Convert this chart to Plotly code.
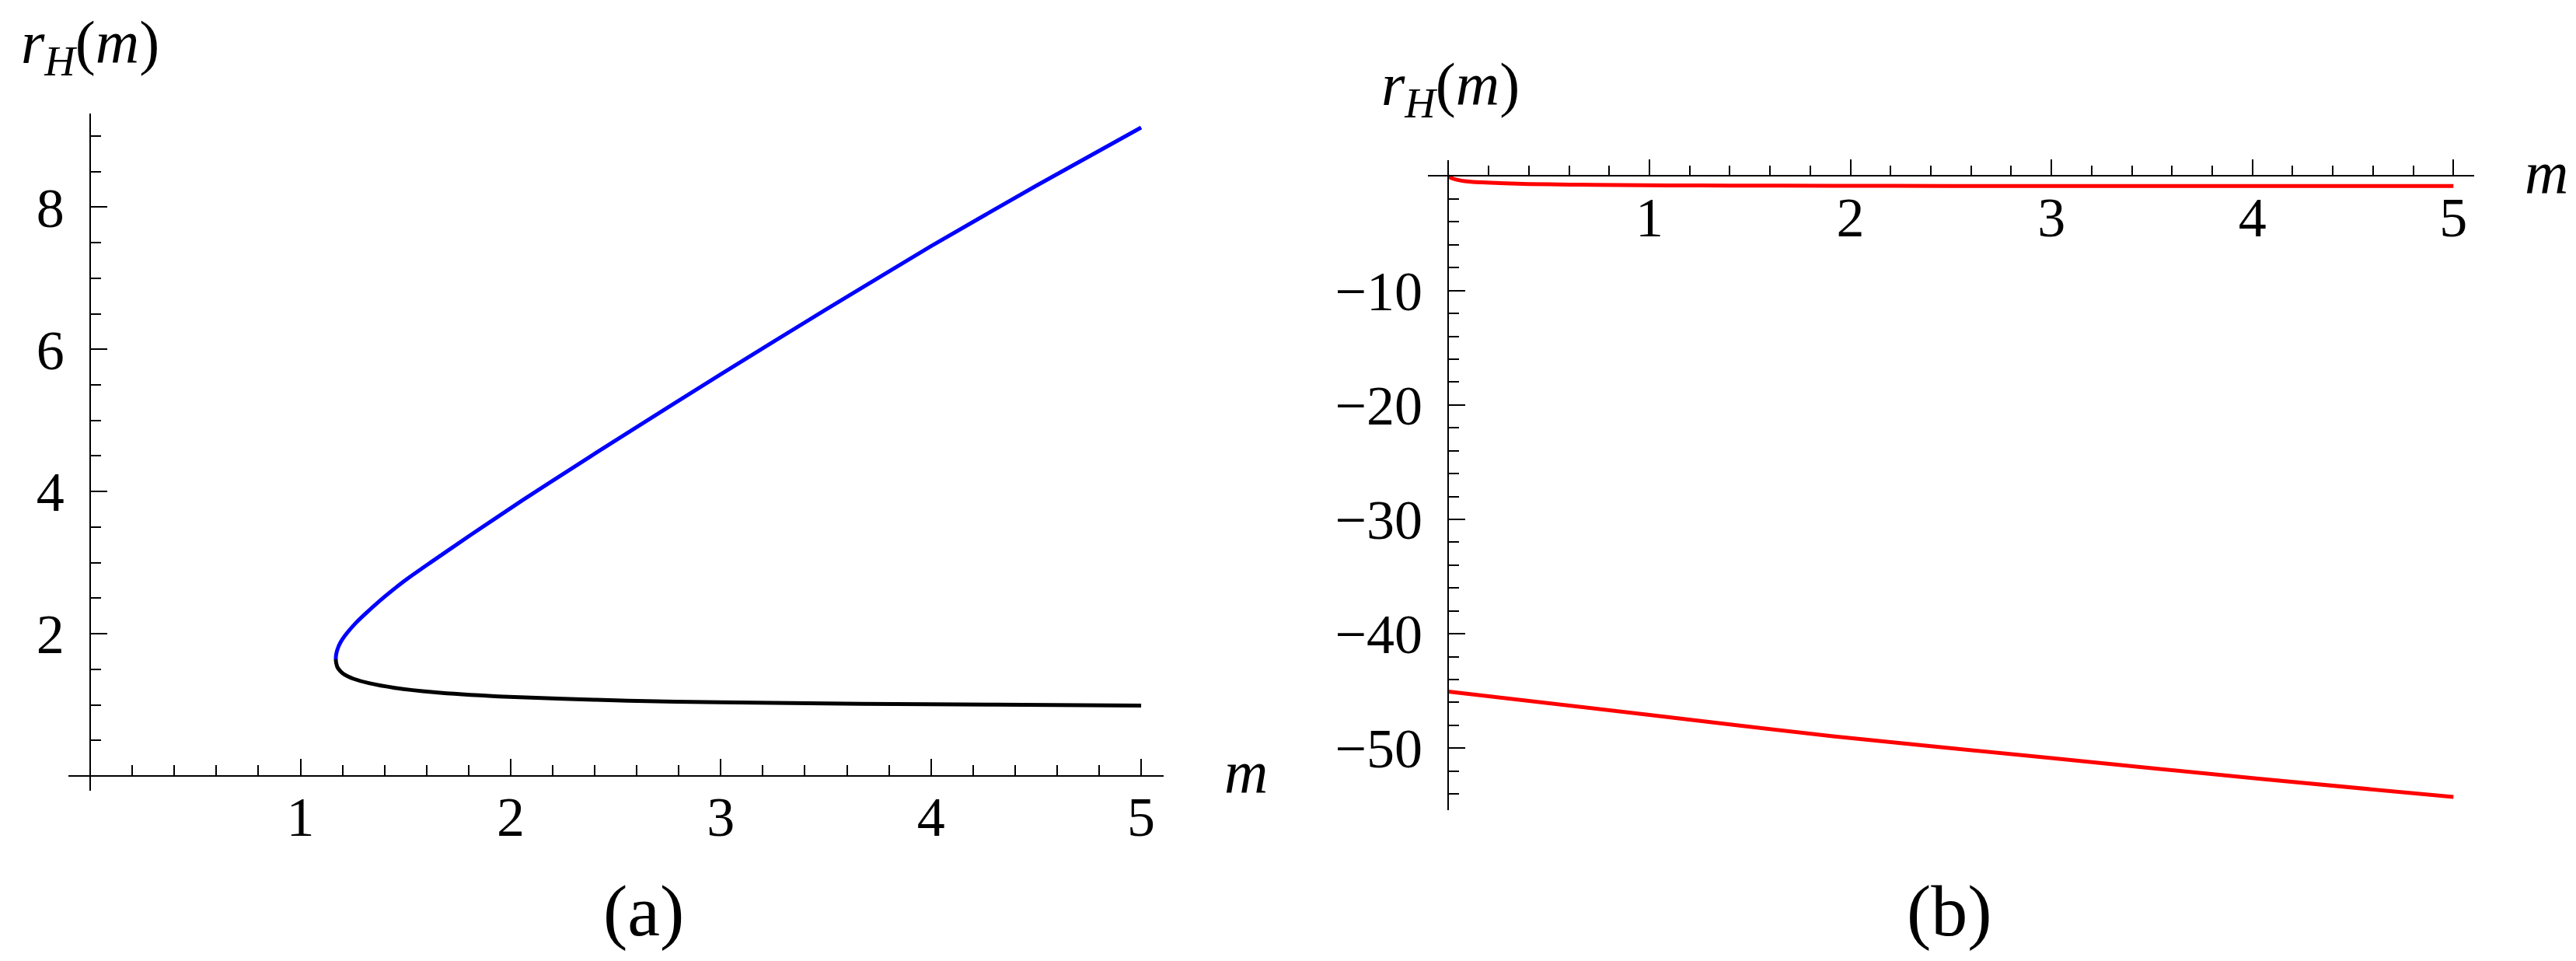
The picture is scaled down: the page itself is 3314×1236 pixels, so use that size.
import plotly.graph_objects as go

# ---------------- data ----------------
# panel (a): upper (blue) and lower (black) branches of r_H(m)
m_blue = [1.168, 1.1695, 1.176, 1.191, 1.219, 1.263, 1.316, 1.392, 1.498, 1.618,
          1.810, 2.058, 2.312, 2.5, 3.0, 3.5, 4.0, 4.5, 5.0]
r_blue = [1.64, 1.70, 1.78, 1.88, 2.00, 2.15, 2.30, 2.50, 2.75, 3.00,
          3.39, 3.88, 4.365, 4.72, 5.65, 6.56, 7.45, 8.30, 9.12]

m_black = [1.168, 1.170, 1.176, 1.188, 1.202, 1.226, 1.252, 1.326, 1.449, 1.634, 1.942,
           2.25, 2.558, 3.0, 3.67, 4.3, 5.0]
r_black = [1.64, 1.59, 1.53, 1.48, 1.44, 1.40, 1.367, 1.305, 1.239, 1.178, 1.119,
           1.086, 1.057, 1.035, 1.015, 1.003, 0.99]

# panel (b): two red branches
m_red1 = [0.0, 0.01, 0.022, 0.05, 0.081, 0.12, 0.184, 0.28, 0.40, 0.6, 0.85, 1.1, 1.4,
          1.914, 2.5, 3.0, 4.0, 5.0]
r_red1 = [0.0, -0.12, -0.22, -0.35, -0.44, -0.51, -0.56, -0.63, -0.69, -0.74, -0.78,
          -0.81, -0.83, -0.85, -0.86, -0.86, -0.87, -0.87]

m_red2 = [0.0, 1.0, 1.914, 3.0, 4.04, 5.0]
r_red2 = [-45.05, -47.09, -48.97, -50.87, -52.69, -54.27]

# tick labels
xa_tickvals = [1, 2, 3, 4, 5]
ya_tickvals = [2, 4, 6, 8]
xb_tickvals = [1, 2, 3, 4, 5]
yb_tickvals = [-10, -20, -30, -40, -50]
yb_ticktext = ["\u221210", "\u221220", "\u221230", "\u221240", "\u221250"]

# ---------------- figure ----------------
W, H = 3314, 1236
FONT = "Liberation Serif, Times New Roman, Times, serif"
LW = 5

fig = go.Figure()
fig.add_trace(go.Scatter(x=m_blue, y=r_blue, mode="lines",
                         line=dict(color="#0000FF", width=LW, shape="spline", smoothing=0.6),
                         xaxis="x", yaxis="y"))
fig.add_trace(go.Scatter(x=m_black, y=r_black, mode="lines",
                         line=dict(color="#000000", width=LW, shape="spline", smoothing=0.6),
                         xaxis="x", yaxis="y"))
fig.add_trace(go.Scatter(x=m_red1, y=r_red1, mode="lines",
                         line=dict(color="#FF0000", width=LW, shape="spline", smoothing=0.6),
                         xaxis="x2", yaxis="y2"))
fig.add_trace(go.Scatter(x=m_red2, y=r_red2, mode="lines",
                         line=dict(color="#FF0000", width=LW, shape="spline", smoothing=0.6),
                         xaxis="x2", yaxis="y2"))

# panel geometry (pixels)
xa_dom = [80 / W, 1489 / W]
ya_dom = [1 - 1009 / H, 1 - 138 / H]
xa_rng = [-0.104, 5.107]
ya_rng = [-0.208, 9.317]

xb_dom = [1828.5 / W, 3174.7 / W]
yb_dom = [1 - 1034 / H, 1 - 198.3 / H]
xb_rng = [-0.104, 5.102]
yb_rng = [-55.42, 1.372]


def pos_of_zero(dom, rng):
    return dom[0] + (0 - rng[0]) / (rng[1] - rng[0]) * (dom[1] - dom[0])


tickfont = dict(family=FONT, size=72, color="black")
common = dict(showline=True, linecolor="black", linewidth=2, ticks="inside",
              tickwidth=2, tickcolor="black", showgrid=False, zeroline=False,
              tickfont=tickfont, anchor="free")

XSTAND = -10

fig.update_layout(
    width=W, height=H,
    margin=dict(l=0, r=0, t=0, b=0),
    paper_bgcolor="white", plot_bgcolor="white",
    showlegend=False,
    xaxis=dict(domain=xa_dom, range=xa_rng, position=pos_of_zero(ya_dom, ya_rng),
               tickmode="array", tickvals=xa_tickvals, ticklen=21, ticklabelstandoff=XSTAND,
               minor=dict(ticks="inside", ticklen=13, tickwidth=2, tickcolor="black",
                          dtick=0.2, tick0=0, showgrid=False),
               **common),
    yaxis=dict(domain=ya_dom, range=ya_rng, position=pos_of_zero(xa_dom, xa_rng),
               tickmode="array", tickvals=ya_tickvals, ticklen=21, ticklabelstandoff=18,
               minor=dict(ticks="inside", ticklen=13, tickwidth=2, tickcolor="black",
                          dtick=0.5, tick0=0, showgrid=False),
               **common),
    xaxis2=dict(domain=xb_dom, range=xb_rng, position=pos_of_zero(yb_dom, yb_rng),
                tickmode="array", tickvals=xb_tickvals, ticklen=20, ticklabelstandoff=XSTAND,
                minor=dict(ticks="inside", ticklen=12, tickwidth=2, tickcolor="black",
                           dtick=0.2, tick0=0, showgrid=False),
                **common),
    yaxis2=dict(domain=yb_dom, range=yb_rng, position=pos_of_zero(xb_dom, xb_rng),
                tickmode="array", tickvals=yb_tickvals, ticktext=yb_ticktext,
                ticklen=21, ticklabelstandoff=18,
                minor=dict(ticks="inside", ticklen=13, tickwidth=2, tickcolor="black",
                           dtick=2, tick0=0, showgrid=False),
                **common),
)

lab_font = dict(family=FONT, size=78, color="black")
annos = [
    dict(text="<i>r</i><sub><i>H</i></sub>(<i>m</i>)", x=108 / W, y=1 - 52 / H),
    dict(text="<i>r</i><sub><i>H</i></sub>(<i>m</i>)", x=1858 / W, y=1 - 106 / H),
    dict(text="<i>m</i>", x=1595 / W, y=1 - 985 / H),
    dict(text="<i>m</i>", x=3268 / W, y=1 - 214 / H),
]
for a in annos:
    fig.add_annotation(xref="paper", yref="paper", showarrow=False,
                       xanchor="center", yanchor="middle", font=lab_font, **a)

cap_font = dict(family=FONT, size=94, color="black")
for txt, xc in [("(a)", 820), ("(b)", 2500)]:
    fig.add_annotation(text=txt, x=xc / W, y=1 - 1163 / H, xref="paper", yref="paper",
                       showarrow=False, xanchor="center", yanchor="middle", font=cap_font)

fig.write_html("out.html")
